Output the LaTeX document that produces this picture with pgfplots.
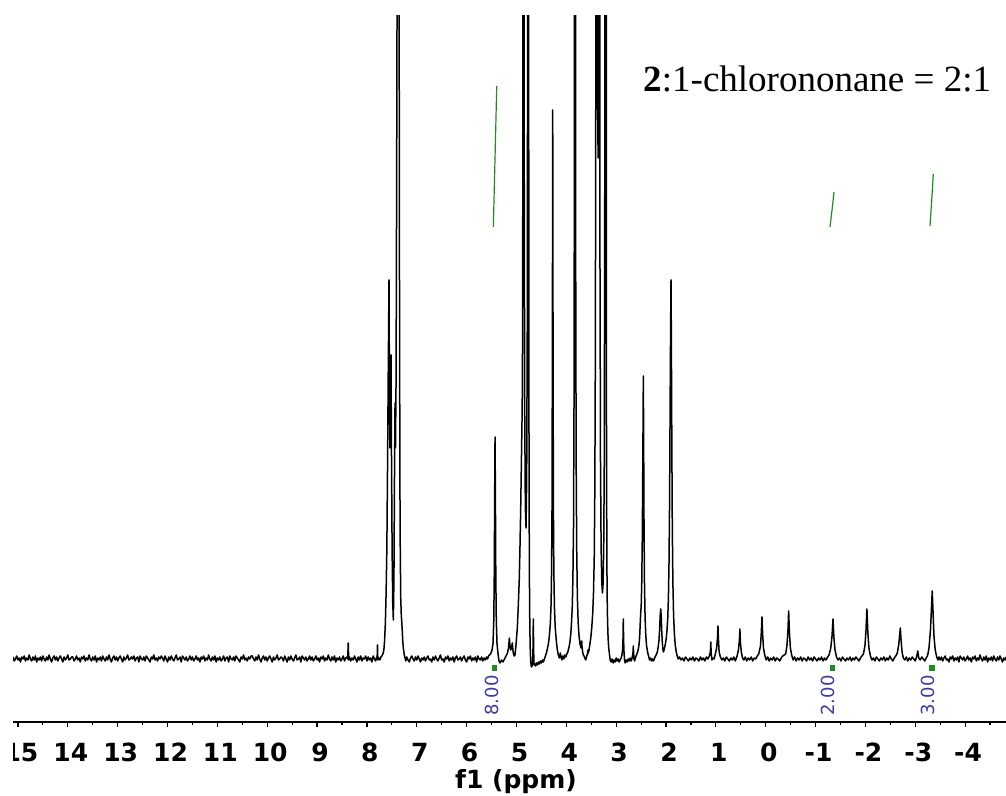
\documentclass[border=0pt]{standalone}
\usepackage{fontspec}
\setmainfont{DejaVu Sans}
\newfontfamily\lib{Liberation Serif}
\usepackage{pgfplots}
\pgfplotsset{compat=1.18}
\definecolor{intblue}{RGB}{60,60,160}
\definecolor{intgreen}{RGB}{30,140,30}
\begin{document}
\begin{tikzpicture}
\useasboundingbox (0,0) rectangle (503pt,398pt);
\begin{scope}
\clip (6.5pt,0) rectangle (503pt,398pt);
\begin{axis}[
 at={(6.5pt,37pt)}, anchor=south west, scale only axis,
 width=496.5pt, height=353pt,
 xmin=-4.82, xmax=15.1, ymin=-64, ymax=642,
 x dir=reverse,
 axis x line=bottom, axis y line=none,
 x axis line style={-, line width=0.6pt},
 xtick={-4,-3,-2,-1,0,1,2,3,4,5,6,7,8,9,10,11,12,13,14,15},
 xticklabels={-4,-3,-2,-1,0,1,2,3,4,5,6,7,8,9,10,11,12,13,14,15},
 minor xtick={-4.5,-3.5,...,14.5},
 tick align=outside,
 major tick length=2.5pt, minor tick length=1.5pt,
 every tick/.style={black, line width=0.6pt},
 xticklabel style={font=\fontsize{12.5}{13}\selectfont\bfseries, inner sep=0pt, anchor=north, yshift=-8pt, xshift=1.5pt},
]
\addplot[black, line width=0.75pt, line join=round] coordinates {
(15.100,1) (15.075,-3) (15.050,-1) (15.025,2) (15.000,-2) (14.975,0) (14.950,-4) (14.925,1) (14.900,-1) (14.875,2) (14.850,-3) (14.825,0)
(14.800,-2) (14.775,3) (14.750,-1) (14.725,-3) (14.700,1) (14.675,-2) (14.650,2) (14.625,-4) (14.600,0) (14.575,-2) (14.550,1) (14.525,-3)
(14.500,2) (14.475,-1) (14.450,-3) (14.425,1) (14.400,-2) (14.375,3) (14.350,-1) (14.325,-4) (14.300,0) (14.275,2) (14.250,-2) (14.225,1)
(14.200,-3) (14.175,0) (14.150,2) (14.125,-1) (14.100,-4) (14.075,1) (14.050,-2) (14.025,0) (14.000,3) (13.975,-2) (13.950,-1) (13.925,1)
(13.900,1) (13.875,-3) (13.850,-1) (13.825,2) (13.800,-2) (13.775,0) (13.750,-4) (13.725,1) (13.700,-1) (13.675,2) (13.650,-3) (13.625,0)
(13.600,-2) (13.575,3) (13.550,-1) (13.525,-3) (13.500,1) (13.475,-2) (13.450,2) (13.425,-4) (13.400,0) (13.375,-2) (13.350,1) (13.325,-3)
(13.300,2) (13.275,-1) (13.250,-3) (13.225,1) (13.200,-2) (13.175,3) (13.150,-1) (13.125,-4) (13.100,0) (13.075,2) (13.050,-2) (13.025,1)
(13.000,-3) (12.975,0) (12.950,2) (12.925,-1) (12.900,-4) (12.875,1) (12.850,-2) (12.825,0) (12.800,3) (12.775,-2) (12.750,-1) (12.725,1)
(12.700,-1) (12.675,2) (12.650,-3) (12.625,0) (12.600,1) (12.575,-4) (12.550,2) (12.525,-1) (12.500,-2) (12.475,1) (12.450,-3) (12.425,2)
(12.400,0) (12.375,-2) (12.350,-4) (12.325,1) (12.300,-1) (12.275,3) (12.250,-2) (12.225,0) (12.200,-3) (12.175,1) (12.150,-1) (12.125,2)
(12.100,0) (12.075,-3) (12.050,2) (12.025,-1) (12.000,-4) (11.975,1) (11.950,-2) (11.925,2) (11.900,-1) (11.875,-3) (11.850,0) (11.825,3)
(11.800,-2) (11.775,-1) (11.750,1) (11.725,-4) (11.700,2) (11.675,0) (11.650,-2) (11.625,1) (11.600,-3) (11.575,-1) (11.550,2) (11.525,-2)
(11.500,1) (11.475,-3) (11.450,-1) (11.425,2) (11.400,-2) (11.375,0) (11.350,-4) (11.325,1) (11.300,-1) (11.275,2) (11.250,-3) (11.225,0)
(11.200,-2) (11.175,3) (11.150,-1) (11.125,-3) (11.100,1) (11.075,-2) (11.050,2) (11.025,-4) (11.000,0) (10.975,-2) (10.950,1) (10.925,-3)
(10.900,-1) (10.875,2) (10.850,-3) (10.825,0) (10.800,1) (10.775,-4) (10.750,2) (10.725,-1) (10.700,-2) (10.675,1) (10.650,-3) (10.625,2)
(10.600,0) (10.575,-2) (10.550,-4) (10.525,1) (10.500,-1) (10.475,3) (10.450,-2) (10.425,0) (10.400,-3) (10.375,1) (10.350,-1) (10.325,2)
(10.300,2) (10.275,-1) (10.250,-3) (10.225,1) (10.200,-2) (10.175,3) (10.150,-1) (10.125,-4) (10.100,0) (10.075,2) (10.050,-2) (10.025,1)
(10.000,-3) (9.975,0) (9.950,2) (9.925,-1) (9.900,-4) (9.875,1) (9.850,-2) (9.825,0) (9.800,3) (9.775,-2) (9.750,-1) (9.725,1)
(9.700,0) (9.675,-3) (9.650,2) (9.625,-1) (9.600,-4) (9.575,1) (9.550,-2) (9.525,2) (9.500,-1) (9.475,-3) (9.450,0) (9.425,3)
(9.400,-2) (9.375,-1) (9.350,1) (9.325,-4) (9.300,2) (9.275,0) (9.250,-2) (9.225,1) (9.200,-3) (9.175,-1) (9.150,2) (9.125,-2)
(9.100,1) (9.075,-3) (9.050,-1) (9.025,2) (9.000,-2) (8.975,0) (8.950,-4) (8.925,1) (8.900,-1) (8.875,2) (8.850,-3) (8.825,0)
(8.800,-2) (8.775,3) (8.750,-1) (8.725,-3) (8.700,1) (8.675,-2) (8.650,2) (8.625,-4) (8.600,0) (8.575,-2) (8.550,1) (8.525,-3)
(8.500,-1) (8.475,2) (8.450,-3) (8.425,0) (8.400,1) (8.385,-1) (8.375,15) (8.365,-2)
(8.350,1) (8.325,-3) (8.300,0) (8.275,-2) (8.250,2) (8.225,-1) (8.200,-4) (8.175,1) (8.150,-2) (8.125,2) (8.100,-3) (8.075,0)
(8.050,-1) (8.025,2) (8.000,-3) (7.975,1) (7.950,-2) (7.925,0) (7.900,-4) (7.875,2) (7.850,-1) (7.825,-3) (7.805,1)
(7.795,-1) (7.788,13) (7.781,-2) (7.76,0) (7.74,-2) (7.72,1)
(7.70,2) (7.68,4) (7.66,8) (7.645,18) (7.63,35) (7.615,65) (7.600,110) (7.585,200) (7.570,300) (7.557,378)
(7.548,260) (7.537,210) (7.526,270) (7.517,303) (7.508,210) (7.495,110) (7.482,55) (7.470,38) (7.458,80) (7.447,180)
(7.436,255) (7.427,210) (7.415,280) (7.400,550) (7.385,900) (7.370,1000) (7.355,700) (7.345,320) (7.335,130) (7.322,60)
(7.310,42) (7.302,37) (7.292,28) (7.28,16) (7.265,8) (7.25,3) (7.235,0) (7.22,-3)
(7.200,1) (7.175,-2) (7.150,-4) (7.125,0) (7.100,2) (7.075,-1) (7.050,-3) (7.025,1) (7.000,-2) (6.975,2) (6.950,-1) (6.925,-4)
(6.900,0) (6.875,-2) (6.850,1) (6.825,-3) (6.800,0) (6.775,2) (6.750,-2) (6.725,-1) (6.700,-4) (6.675,1) (6.650,-2) (6.625,2)
(6.600,-1) (6.575,-3) (6.550,0) (6.525,3) (6.500,-2) (6.475,-1) (6.450,-4) (6.425,1) (6.400,-1) (6.375,2) (6.350,-3) (6.325,0)
(6.300,-2) (6.275,1) (6.250,-4) (6.225,0) (6.200,2) (6.175,-2) (6.150,-1) (6.125,1) (6.100,-3) (6.075,0) (6.050,2) (6.025,-2)
(6.000,-4) (5.975,1) (5.950,-1) (5.925,2) (5.900,-3) (5.875,0) (5.850,-2) (5.825,1) (5.800,-4) (5.775,2) (5.750,-1) (5.725,-2)
(5.700,1) (5.675,-3) (5.650,0) (5.625,-2) (5.600,1) (5.58,-1)
(5.56,2) (5.52,4) (5.49,8) (5.47,15) (5.455,38) (5.445,85) (5.437,165) (5.430,221) (5.423,165) (5.415,85)
(5.405,38) (5.39,14) (5.37,4) (5.35,-3) (5.33,-5) (5.30,-2) (5.27,-4) (5.24,-1) (5.21,2) (5.18,5)
(5.16,10) (5.143,20) (5.13,12) (5.116,8) (5.10,10) (5.083,15) (5.07,7) (5.055,3) (5.043,2) (5.03,3)
(5.015,10) (4.995,22) (4.983,30) (4.965,50) (4.943,80) (4.93,110) (4.915,150) (4.900,200) (4.888,240) (4.880,280)
(4.872,500) (4.866,1500) (4.860,3000) (4.853,1200) (4.845,500) (4.835,250) (4.822,150) (4.808,130) (4.795,180) (4.782,350)
(4.772,900) (4.765,2500) (4.758,800) (4.750,250) (4.742,90) (4.732,30) (4.722,5) (4.712,-5) (4.700,-9) (4.688,-8)
(4.676,-4) (4.668,10) (4.662,39) (4.656,8) (4.648,-7) (4.635,-6) (4.62,-8) (4.60,-5) (4.58,-7) (4.56,-4)
(4.54,-6) (4.52,-3) (4.50,-5) (4.48,-2) (4.46,-4) (4.44,-1) (4.42,2) (4.40,5) (4.38,9) (4.36,14)
(4.34,22) (4.32,35) (4.305,55) (4.295,90) (4.287,150) (4.280,300) (4.273,548) (4.266,300) (4.259,150) (4.250,85)
(4.238,50) (4.222,30) (4.20,17) (4.18,8) (4.16,3) (4.14,0) (4.12,5) (4.105,1) (4.09,-2) (4.07,2)
(4.05,-1) (4.03,3) (4.01,1) (3.99,4) (3.97,6) (3.95,10) (3.93,15) (3.91,24) (3.895,36) (3.88,52)
(3.868,80) (3.856,130) (3.846,250) (3.838,500) (3.832,1000) (3.826,2000) (3.820,900) (3.812,400) (3.803,200) (3.792,110)
(3.778,60) (3.762,35) (3.745,22) (3.725,14) (3.705,10) (3.695,14) (3.691,17) (3.686,12) (3.672,6) (3.66,3)
(3.645,2) (3.63,0) (3.61,-2) (3.59,2) (3.575,4) (3.565,8) (3.558,5) (3.545,8) (3.53,13) (3.51,20)
(3.49,30) (3.47,45) (3.455,65) (3.44,100) (3.428,170) (3.418,300) (3.408,600) (3.398,1200) (3.390,2500) (3.382,900)
(3.372,550) (3.362,500) (3.352,800) (3.342,2000) (3.334,1000) (3.325,400) (3.315,200) (3.302,110) (3.288,75) (3.275,65)
(3.262,75) (3.25,110) (3.238,200) (3.228,500) (3.218,1500) (3.210,2500) (3.202,1000) (3.195,250) (3.187,100) (3.180,58)
(3.172,35) (3.162,20) (3.15,10) (3.135,4) (3.12,-2) (3.10,-4) (3.08,-1) (3.06,-5) (3.04,-2) (3.02,-4)
(3.00,0) (2.98,-3) (2.96,-1) (2.94,-4) (2.92,-2) (2.90,0) (2.885,3) (2.872,8) (2.864,16) (2.857,39)
(2.850,16) (2.842,5) (2.832,-2) (2.82,-5) (2.80,-2) (2.78,-4) (2.76,-1) (2.74,-3) (2.72,0) (2.70,-3)
(2.685,-1) (2.67,3) (2.662,6) (2.656,12) (2.650,5) (2.642,-1) (2.63,-3) (2.615,0) (2.60,2) (2.585,4)
(2.57,6) (2.555,9) (2.54,14) (2.528,22) (2.518,34) (2.508,45) (2.498,52) (2.487,75) (2.476,120) (2.467,185)
(2.460,240) (2.455,282) (2.449,220) (2.442,140) (2.432,75) (2.42,40) (2.405,22) (2.39,12) (2.37,6) (2.35,2)
(2.33,-2) (2.31,0) (2.29,-3) (2.27,-1) (2.25,-3) (2.23,0) (2.21,2) (2.19,4) (2.17,7) (2.155,12)
(2.14,18) (2.127,30) (2.116,43) (2.106,49) (2.097,42) (2.087,28) (2.075,16) (2.063,9) (2.052,6) (2.04,8)
(2.025,11) (2.01,15) (1.995,20) (1.98,28) (1.965,40) (1.952,60) (1.940,95) (1.928,160) (1.918,250) (1.908,330)
(1.900,378) (1.893,320) (1.884,220) (1.874,130) (1.862,75) (1.848,42) (1.832,24) (1.815,13) (1.795,6) (1.775,2)
(1.755,-1) (1.73,1) (1.70,-2) (1.67,0) (1.64,-3) (1.61,1) (1.58,-1) (1.55,-3) (1.52,0) (1.49,-2)
(1.46,1) (1.43,-3) (1.40,0) (1.37,-1) (1.34,-3) (1.31,1) (1.28,-2) (1.25,0) (1.22,-3) (1.19,1)
(1.16,-1) (1.13,2) (1.11,6) (1.102,16) (1.094,5) (1.08,-2) (1.06,0) (1.035,-1) (1.015,3) (0.985,10)
(0.968,20) (0.958,32) (0.948,18) (0.935,6) (0.91,1) (0.88,-2) (0.85,0) (0.82,-3) (0.79,1) (0.76,-1)
(0.73,-3) (0.70,0) (0.67,-2) (0.64,1) (0.61,-3) (0.575,2) (0.548,8) (0.528,18) (0.518,29) (0.508,16)
(0.49,6) (0.465,0) (0.44,-2) (0.41,1) (0.38,-3) (0.35,0) (0.32,-2) (0.29,1) (0.26,-3) (0.23,0)
(0.20,-1) (0.17,2) (0.14,4) (0.105,12) (0.088,26) (0.075,41) (0.062,24) (0.045,10) (0.02,3) (-0.01,-2)
(-0.04,1) (-0.07,-3) (-0.10,0) (-0.13,-2) (-0.16,1) (-0.19,-3) (-0.22,0) (-0.25,-1) (-0.28,-3) (-0.31,0)
(-0.34,2) (-0.37,3) (-0.40,4) (-0.425,12) (-0.445,26) (-0.460,47) (-0.475,26) (-0.495,10) (-0.52,3) (-0.55,-2)
(-0.58,1) (-0.61,-3) (-0.64,0) (-0.67,-2) (-0.70,1) (-0.73,-3) (-0.76,0) (-0.79,-1) (-0.82,-3) (-0.85,1)
(-0.88,-2) (-0.91,0) (-0.94,-3) (-0.97,1) (-1.00,-1) (-1.03,-3) (-1.06,0) (-1.09,-2) (-1.12,1) (-1.15,-3)
(-1.18,0) (-1.21,-2) (-1.24,1) (-1.27,3) (-1.305,10) (-1.330,22) (-1.350,39) (-1.368,20) (-1.39,8) (-1.42,1)
(-1.45,-2) (-1.48,0) (-1.51,-3) (-1.54,1) (-1.57,-1) (-1.60,-3) (-1.63,0) (-1.66,-2) (-1.69,1) (-1.72,-3)
(-1.75,0) (-1.78,-2) (-1.81,1) (-1.84,-1) (-1.87,-3) (-1.90,0) (-1.93,2) (-1.96,4) (-1.99,12) (-2.012,28)
(-2.030,49) (-2.048,26) (-2.07,10) (-2.10,2) (-2.13,-2) (-2.16,0) (-2.19,-3) (-2.22,1) (-2.25,-1) (-2.28,-3)
(-2.31,0) (-2.34,-2) (-2.37,1) (-2.40,-3) (-2.43,0) (-2.46,-2) (-2.49,2) (-2.52,-1) (-2.55,-3) (-2.58,0)
(-2.61,2) (-2.64,5) (-2.67,14) (-2.685,22) (-2.700,30) (-2.715,18) (-2.735,6) (-2.76,0) (-2.79,-2) (-2.82,1)
(-2.85,-3) (-2.88,0) (-2.91,-2) (-2.94,1) (-2.97,-1) (-3.00,-3) (-3.03,2) (-3.05,7) (-3.07,0) (-3.10,-2)
(-3.13,1) (-3.16,-1) (-3.19,-3) (-3.22,0) (-3.25,3) (-3.275,10) (-3.305,28) (-3.325,50) (-3.340,67) (-3.355,48)
(-3.375,22) (-3.40,8) (-3.43,1) (-3.455,-2) (-3.475,1)
(-3.500,-2) (-3.525,1) (-3.550,-3) (-3.575,0) (-3.600,2) (-3.625,-2) (-3.650,-1) (-3.675,-4) (-3.700,1) (-3.725,-1) (-3.750,2) (-3.775,-3)
(-3.800,0) (-3.825,-2) (-3.850,1) (-3.875,-4) (-3.900,2) (-3.925,0) (-3.950,-2) (-3.975,1) (-4.000,-3) (-4.025,-1) (-4.050,2) (-4.075,-2)
(-4.100,0) (-4.125,-4) (-4.150,1) (-4.175,-1) (-4.200,2) (-4.225,-3) (-4.250,0) (-4.275,-2) (-4.300,3) (-4.325,-1) (-4.350,-3) (-4.375,1)
(-4.400,-2) (-4.425,2) (-4.450,-4) (-4.475,0) (-4.500,-2) (-4.525,1) (-4.550,-3) (-4.575,2) (-4.600,-1) (-4.625,-3) (-4.650,1) (-4.675,-2)
(-4.700,2) (-4.725,-1) (-4.750,-4) (-4.775,0) (-4.800,-2) (-4.825,1) (-4.850,-1)
};
% integral curves
\addplot[intgreen, line width=0.6pt] coordinates {(5.464,431) (5.43,500) (5.396,572)};
\addplot[intgreen, line width=0.6pt] coordinates {(-1.289,431) (-1.33,448) (-1.370,466)};
\addplot[intgreen, line width=0.6pt] coordinates {(-3.296,432) (-3.33,458) (-3.362,484)};
% integral markers
\addplot[only marks, mark=square*, mark size=1.1pt, intgreen] coordinates {(5.446,-10) (-1.342,-10) (-3.336,-10)};
\node[rotate=90, anchor=east, inner sep=0pt, text=intblue, font=\fontsize{9}{10}\selectfont] at (axis cs:5.49,-17) {8.00};
\node[rotate=90, anchor=east, inner sep=0pt, text=intblue, font=\fontsize{9}{10}\selectfont] at (axis cs:-1.25,-17) {2.00};
\node[rotate=90, anchor=east, inner sep=0pt, text=intblue, font=\fontsize{9}{10}\selectfont] at (axis cs:-3.255,-17) {3.00};
\end{axis}
\end{scope}
\node[anchor=base, inner sep=0pt, font=\fontsize{12.5}{13}\selectfont\bfseries] at (258pt,3.5pt) {f1 (ppm)};
\node[anchor=base west, inner sep=0pt, font=\lib\fontsize{18.5}{20}\selectfont] at (321.5pt,352pt) {\textbf{2}:1-chlorononane = 2:1};
\end{tikzpicture}
\end{document}
